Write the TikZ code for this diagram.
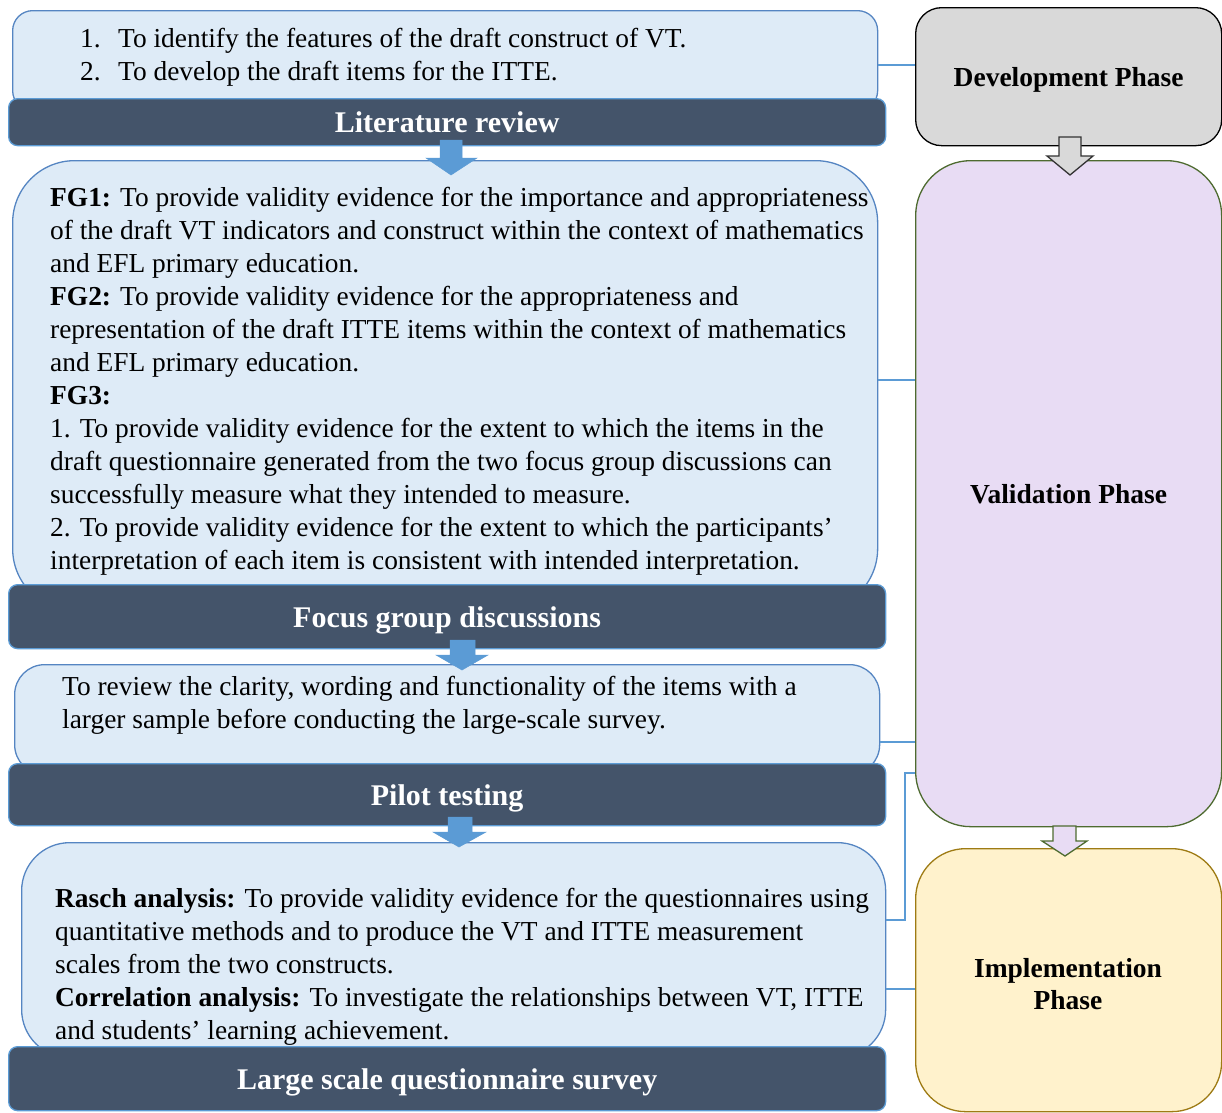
\documentclass[tikz,border=0pt]{standalone}
\usepackage{fontspec}
\setmainfont{Liberation Serif}
\definecolor{boxfill}{HTML}{DEEBF7}
\definecolor{boxline}{HTML}{5585C2}
\definecolor{bardark}{HTML}{44546A}
\definecolor{arrblue}{HTML}{5B9BD5}
\definecolor{devfill}{HTML}{D9D9D9}
\definecolor{valfill}{HTML}{E8DCF4}
\definecolor{valline}{HTML}{4E6B30}
\definecolor{impfill}{HTML}{FFF2CC}
\definecolor{impline}{HTML}{9E7B14}
\begin{document}
\begin{tikzpicture}[x=1pt,y=-1pt,
  lbox/.style={draw=boxline, fill=boxfill, line width=1.3pt, inner sep=0pt, anchor=north west},
  bar/.style={draw=arrblue, fill=bardark, line width=1.3pt, rounded corners=9pt, inner sep=0pt,
    anchor=north west, minimum width=877pt, text=white, text depth=0pt,
    font=\fontsize{30}{34}\selectfont\bfseries},
  body/.style={anchor=north west, inner sep=0pt, align=left, font=\fontsize{27.4}{33}\selectfont},
  conn/.style={draw=arrblue, line width=1.6pt},
  phase/.style={line width=1.3pt, inner sep=0pt, anchor=north west, minimum width=306pt,
    text depth=0pt, font=\fontsize{27.5}{32}\selectfont\bfseries, align=center},
  phasetext/.style={inner sep=0pt, font=\fontsize{27.5}{32}\selectfont\bfseries, align=center},
  barrow/.style={fill=arrblue, draw=arrblue, line width=0.5pt},
]
\useasboundingbox (0,0) rectangle (1222,1112);

% phase boxes
\node[phase, draw=black, fill=devfill, minimum height=138pt, rounded corners=26pt] (dev) at (915,7) {Development Phase};
\node[phase, draw=valline, fill=valfill, minimum height=666pt, rounded corners=55pt] (val) at (915,160) {Validation Phase};
\node[phase, draw=impline, fill=impfill, minimum height=263pt, rounded corners=50pt] (imp) at (915,848) {};
\node[phasetext] (impt) at (1068,984) {Implementation\\Phase};

% light boxes
\node[lbox, minimum width=865pt, minimum height=100pt, rounded corners=20pt] (b1) at (12,10) {};
\node[lbox, minimum width=865pt, minimum height=450pt, rounded corners=62pt] (b2) at (12,160) {};
\node[lbox, minimum width=865pt, minimum height=110pt, rounded corners=30pt] (b3) at (14,664) {};
\node[lbox, minimum width=864pt, minimum height=215pt, rounded corners=48pt] (b4) at (21,842) {};

% connectors
\coordinate (j1) at (905,773);
\draw[conn] (b1.east |- 0,65) -- (dev.west |- 0,65);
\draw[conn] (b2.east |- 0,380) -- (val.west |- 0,380);
\draw[conn] (b3.east |- 0,742) -- (val.west |- 0,742);
\draw[conn] (b4.east |- 0,920) -| (j1) -- (val.west |- j1);
\draw[conn] (b4.east |- 0,989) -- (imp.west |- 0,989);

% dark bars
\node[bar, minimum height=47pt] (t1) at (8,98) {Literature review};
\node[bar, minimum height=64pt] (t2) at (8,584) {Focus group discussions};
\node[bar, minimum height=62pt] (t3) at (8,763) {Pilot testing};
\node[bar, minimum height=64pt] (t4) at (8,1046) {Large scale questionnaire survey};

% blue block arrows
\filldraw[barrow] (440,140) -- (462,140) -- (462,158) -- (477,158) -- (451,175) -- (426,158) -- (440,158) -- cycle;
\filldraw[barrow] (450,640) -- (475,640) -- (475,655) -- (488,655) -- (462,670) -- (436,655) -- (450,655) -- cycle;
\filldraw[barrow] (448,817) -- (472,817) -- (472,832) -- (486,832) -- (459,847) -- (433,832) -- (448,832) -- cycle;

% phase arrows
\filldraw[fill=devfill, draw=black!80, line width=1.3pt, line join=miter]
  (1059,137) -- (1081,137) -- (1081,156) -- (1093,156) -- (1070,175) -- (1047,156) -- (1059,156) -- cycle;
\filldraw[fill=valfill, draw=valline, line width=1.3pt, line join=miter]
  (1053,826) -- (1076,826) -- (1076,841) -- (1087,841) -- (1065,856) -- (1042,841) -- (1053,841) -- cycle;

% texts
\node[body] (x1) at (80,28) {\makebox[38pt][l]{1.}To identify the features of the draft construct of VT.\\
\makebox[38pt][l]{2.}To develop the draft items for the ITTE.};
\node[body] (x2) at (50,187) {\textbf{FG1:} To provide validity evidence for the importance and appropriateness\\
of the draft VT indicators and construct within the context of mathematics\\
and EFL primary education.\\
\textbf{FG2:} To provide validity evidence for the appropriateness and\\
representation of the draft ITTE items within the context of mathematics\\
and EFL primary education.\\
\textbf{FG3:}\\
1. To provide validity evidence for the extent to which the items in the\\
draft questionnaire generated from the two focus group discussions can\\
successfully measure what they intended to measure.\\
2. To provide validity evidence for the extent to which the participants’\\
interpretation of each item is consistent with intended interpretation.};
\node[body] (x3) at (62,676) {To review the clarity, wording and functionality of the items with a\\
larger sample before conducting the large-scale survey.};
\node[body] (x4) at (55,888) {\textbf{Rasch analysis:} To provide validity evidence for the questionnaires using\\
quantitative methods and to produce the VT and ITTE measurement\\
scales from the two constructs.\\
\textbf{Correlation analysis:} To investigate the relationships between VT, ITTE\\
and students’ learning achievement.};
\end{tikzpicture}
\end{document}
